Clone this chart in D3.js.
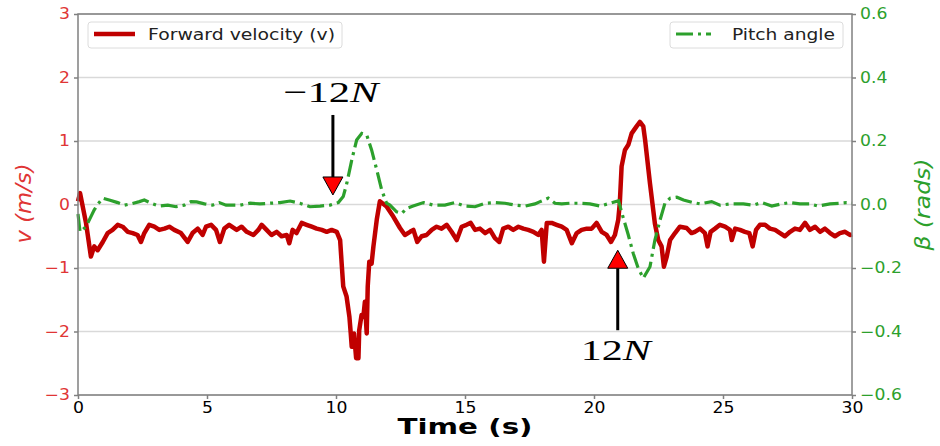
<!DOCTYPE html>
<html>
<head>
<meta charset="utf-8">
<script src="https://cdn.jsdelivr.net/npm/d3@7"></script>
<style>
  body { margin: 0; background: #fff; }
  text { font-family: 'DejaVu Sans', sans-serif; }
</style>
</head>
<body>
<svg id="chart"></svg>
<script>
// forward velocity v (m/s), [time s, value]
const velocity = [
  [0.00, 0.05], [0.08, 0.18], [0.31, -0.29], [0.50, -0.82], [0.63, -0.66], [0.76, -0.72],
  [0.96, -0.59], [1.15, -0.45], [1.34, -0.40], [1.54, -0.32], [1.73, -0.35], [1.93, -0.43],
  [2.12, -0.45], [2.31, -0.48], [2.44, -0.59], [2.57, -0.45], [2.76, -0.32], [2.96, -0.35],
  [3.15, -0.40], [3.35, -0.38], [3.54, -0.35], [3.73, -0.40], [3.99, -0.45], [4.25, -0.59],
  [4.44, -0.45], [4.64, -0.38], [4.83, -0.48], [4.96, -0.35], [5.16, -0.32], [5.35, -0.40],
  [5.50, -0.59], [5.67, -0.38], [5.86, -0.32], [6.15, -0.40], [6.34, -0.35], [6.54, -0.43],
  [6.80, -0.48], [6.99, -0.40], [7.12, -0.32], [7.31, -0.40], [7.50, -0.48], [7.70, -0.43],
  [7.89, -0.50], [8.09, -0.48], [8.19, -0.61], [8.32, -0.40], [8.47, -0.45], [8.67, -0.29],
  [8.86, -0.32], [9.06, -0.35], [9.25, -0.38], [9.45, -0.40], [9.64, -0.43], [9.83, -0.40],
  [10.03, -0.43], [10.16, -0.56], [10.22, -0.93], [10.28, -1.29], [10.41, -1.45], [10.52, -1.77],
  [10.57, -2.02], [10.61, -2.24], [10.70, -2.03], [10.78, -2.42], [10.87, -2.42], [10.90, -1.98],
  [10.99, -1.74], [11.06, -1.77], [11.12, -1.53], [11.19, -2.03], [11.23, -1.29], [11.29, -0.90],
  [11.38, -0.93], [11.45, -0.66], [11.58, -0.24], [11.70, 0.05], [11.80, 0.02], [11.96, -0.03],
  [12.22, -0.19], [12.48, -0.37], [12.67, -0.48], [12.87, -0.43], [13.00, -0.40], [13.15, -0.59],
  [13.32, -0.50], [13.51, -0.48], [13.71, -0.40], [13.90, -0.35], [14.09, -0.38], [14.29, -0.32],
  [14.48, -0.43], [14.68, -0.56], [14.87, -0.35], [15.06, -0.32], [15.22, -0.29], [15.39, -0.40],
  [15.58, -0.38], [15.78, -0.45], [15.97, -0.40], [16.16, -0.53], [16.33, -0.59], [16.48, -0.38],
  [16.68, -0.35], [16.87, -0.40], [17.07, -0.35], [17.26, -0.38], [17.45, -0.40], [17.65, -0.43],
  [17.84, -0.48], [17.97, -0.40], [18.06, -0.90], [18.17, -0.29], [18.36, -0.29], [18.55, -0.32],
  [18.75, -0.35], [18.94, -0.40], [19.14, -0.61], [19.33, -0.45], [19.52, -0.40], [19.72, -0.38],
  [19.91, -0.38], [20.10, -0.29], [20.30, -0.43], [20.49, -0.48], [20.66, -0.59], [20.81, -0.48],
  [20.94, -0.24], [21.00, 0.02], [21.07, 0.60], [21.20, 0.86], [21.33, 0.94], [21.46, 1.12],
  [21.65, 1.23], [21.78, 1.30], [21.91, 1.23], [21.98, 1.02], [22.17, 0.33], [22.36, -0.30],
  [22.49, -0.56], [22.62, -0.66], [22.71, -0.98], [22.82, -0.82], [22.95, -0.56], [23.14, -0.45],
  [23.33, -0.35], [23.59, -0.37], [23.78, -0.45], [23.91, -0.43], [24.11, -0.38], [24.30, -0.45],
  [24.40, -0.66], [24.52, -0.43], [24.69, -0.38], [24.88, -0.32], [25.08, -0.35], [25.27, -0.40],
  [25.34, -0.56], [25.47, -0.38], [25.66, -0.40], [25.85, -0.43], [26.02, -0.45], [26.15, -0.66],
  [26.28, -0.40], [26.43, -0.32], [26.63, -0.32], [26.82, -0.38], [27.02, -0.40], [27.21, -0.45],
  [27.40, -0.50], [27.60, -0.43], [27.79, -0.38], [27.98, -0.40], [28.18, -0.29], [28.37, -0.40],
  [28.57, -0.35], [28.76, -0.43], [28.95, -0.38], [29.15, -0.45], [29.34, -0.50], [29.53, -0.45],
  [29.73, -0.43], [29.92, -0.48], [30.00, -0.47]
]

// pitch angle beta (rads), [time s, value]
const pitch = [
  [0.00, -0.03], [0.08, -0.086], [0.31, -0.07], [0.63, -0.017], [0.76, 0.0], [0.96, 0.02],
  [1.21, 0.014], [1.54, 0.006], [1.80, -0.002], [2.05, 0.002], [2.38, 0.009], [2.57, 0.014],
  [2.90, 0.002], [3.15, -0.005], [3.48, -0.002], [3.80, -0.007], [4.12, -0.002], [4.38, 0.009],
  [4.60, 0.008], [4.90, 0.002], [5.22, -0.002], [5.48, 0.006], [5.74, -0.002], [6.28, -0.002],
  [6.67, 0.004], [7.05, 0.002], [7.44, 0.004], [7.83, 0.006], [8.22, 0.011], [8.60, 0.004],
  [8.99, -0.007], [9.38, -0.005], [9.77, -0.002], [10.09, 0.006], [10.28, 0.025], [10.42, 0.067],
  [10.61, 0.14], [10.80, 0.203], [11.00, 0.224], [11.19, 0.219], [11.38, 0.172], [11.58, 0.109],
  [11.77, 0.046], [11.96, 0.004], [12.09, -0.002], [12.35, -0.023], [12.55, -0.028], [12.74, -0.012],
  [12.99, -0.005], [13.39, 0.006], [13.77, -0.002], [14.22, -0.002], [14.61, 0.006], [15.00, -0.005],
  [15.39, -0.007], [15.78, 0.004], [16.16, 0.006], [16.55, 0.004], [16.94, -0.002], [17.33, -0.005],
  [17.71, 0.002], [17.91, 0.009], [18.23, 0.02], [18.49, 0.004], [18.75, 0.002], [19.07, 0.004],
  [19.46, 0.004], [19.84, 0.002], [20.23, -0.005], [20.62, 0.004], [20.95, 0.012], [21.12, -0.038],
  [21.33, -0.096], [21.52, -0.154], [21.71, -0.2], [21.91, -0.232], [22.17, -0.196], [22.36, -0.112],
  [22.56, -0.049], [22.75, 0.004], [22.95, 0.02], [23.21, 0.023], [23.47, 0.014], [23.85, 0.006],
  [24.11, 0.002], [24.56, 0.009], [24.88, -0.002], [25.33, 0.002], [25.79, 0.002], [26.17, -0.002],
  [26.50, 0.006], [26.89, -0.005], [27.27, 0.002], [27.60, 0.006], [27.98, 0.002], [28.37, 0.002],
  [28.69, -0.005], [29.15, 0.002], [29.53, 0.004], [29.79, 0.006], [30.00, 0.004]
]

const xTicks = [0, 5, 10, 15, 20, 25, 30]
const vTicks = [-3, -2, -1, 0, 1, 2, 3]
const betaTicks = [-0.6, -0.4, -0.2, 0, 0.2, 0.4, 0.6]

// force markers: time of the push, arrow tip / tail and label on the v axis
const forces = [
  { sign: '−', t: 9.88, tip: 0.15, tail: 1.41, labelV: 1.61, up: false },
  { sign: '', t: 20.92, tip: -0.72, tail: -1.98, labelV: -2.45, up: true }
]

const width = 940
const height = 446
const margin = { top: 14, right: 88, bottom: 51, left: 78 }
const dims = { w: width - margin.left - margin.right, h: height - margin.top - margin.bottom }

const colors = { v: '#c00000', vText: '#e03535', beta: '#2ca02c', spine: '#808080', grid: '#d9d9d9' }

// the source image is a little wider than tall, so text is stretched sideways
const stretch = 1.15

const scales = {
  x: d3.scaleLinear().domain([0, 30]).range([0, dims.w]),
  v: d3.scaleLinear().domain([-3, 3]).range([dims.h, 0]),
  beta: d3.scaleLinear().domain([-0.6, 0.6]).range([dims.h, 0])
}

const svg = d3.select('#chart')
  .attr('width', width)
  .attr('height', height)

const chart = svg.append('g')
  .attr('transform', `translate(${margin.left}, ${margin.top})`)

// grid
chart.append('g')
  .selectAll('line')
  .data(vTicks)
  .join('line')
  .attr('x1', 0)
  .attr('x2', dims.w)
  .attr('y1', d => scales.v(d))
  .attr('y2', d => scales.v(d))
  .attr('stroke', colors.grid)
  .attr('stroke-width', 1.5)

const minus = d => d < 0 ? '−' + Math.abs(d) : String(d)

const styleAxis = (g, color, textColor) => {
  g.select('.domain').remove()
  g.selectAll('.tick line').attr('stroke', color).attr('stroke-width', 1.5)
  g.selectAll('.tick text')
    .attr('fill', textColor)
    .attr('transform', `scale(${stretch}, 1)`)
    .style('font-size', '15px')
}

chart.append('g')
  .call(d3.axisLeft(scales.v).tickValues(vTicks).tickSize(4).tickPadding(3).tickFormat(minus))
  .call(g => styleAxis(g, colors.spine, colors.vText))

chart.append('g')
  .attr('transform', `translate(${dims.w}, 0)`)
  .call(d3.axisRight(scales.beta).tickValues(betaTicks).tickSize(4).tickPadding(3)
    .tickFormat(d => d === 0 ? '0.0' : d3.format('.1f')(d)))
  .call(g => styleAxis(g, colors.spine, colors.beta))

chart.append('g')
  .attr('transform', `translate(0, ${dims.h})`)
  .call(d3.axisBottom(scales.x).tickValues(xTicks).tickSize(4).tickPadding(3))
  .call(g => styleAxis(g, colors.spine, '#000'))

// series
chart.append('path')
  .datum(velocity)
  .attr('d', d3.line().x(d => scales.x(d[0])).y(d => scales.v(d[1])))
  .attr('fill', 'none')
  .attr('stroke', colors.v)
  .attr('stroke-width', 4.5)
  .attr('stroke-linejoin', 'round')

chart.append('path')
  .datum(pitch)
  .attr('d', d3.line().x(d => scales.x(d[0])).y(d => scales.beta(d[1])))
  .attr('fill', 'none')
  .attr('stroke', colors.beta)
  .attr('stroke-width', 3.2)
  .attr('stroke-dasharray', '17 5 3 5')

// arrows and force labels
forces.forEach(f => {
  const x = scales.x(f.t)
  const tipY = scales.v(f.tip)
  const head = 18
  const baseY = f.up ? tipY + head : tipY - head
  chart.append('line')
    .attr('x1', x).attr('x2', x)
    .attr('y1', scales.v(f.tail)).attr('y2', baseY)
    .attr('stroke', '#000')
    .attr('stroke-width', 3)
  chart.append('path')
    .attr('d', `M${x},${tipY}L${x - 10},${baseY}L${x + 10},${baseY}Z`)
    .attr('fill', '#ff0000')
    .attr('stroke', '#000')
    .attr('stroke-width', 1)
  const label = chart.append('text')
    .attr('x', x - 2)
    .attr('y', scales.v(f.labelV))
    .attr('text-anchor', 'middle')
    .attr('textLength', f.sign ? 95 : 70)
    .attr('lengthAdjust', 'spacingAndGlyphs')
    .style('font-family', "'Liberation Serif', serif")
    .style('font-size', '30px')
  label.append('tspan').text(f.sign + '12')
  label.append('tspan').style('font-style', 'italic').text('N')
})

// frame
chart.append('rect')
  .attr('width', dims.w)
  .attr('height', dims.h)
  .attr('fill', 'none')
  .attr('stroke', colors.spine)
  .attr('stroke-width', 1.5)

// legends
const legend = (x, w, label, color, dash, textX, textW, lineW) => {
  const g = chart.append('g').attr('transform', `translate(${x}, 8)`)
  g.append('rect')
    .attr('width', w)
    .attr('height', 26)
    .attr('rx', 3)
    .attr('fill', '#fff')
    .attr('stroke', '#dcdcdc')
  g.append('line')
    .attr('x1', 6).attr('x2', 6 + lineW)
    .attr('y1', 12).attr('y2', 12)
    .attr('stroke', color)
    .attr('stroke-width', dash ? 3.2 : 4.5)
    .attr('stroke-dasharray', dash)
  g.append('text')
    .attr('x', textX)
    .attr('y', 18)
    .attr('textLength', textW)
    .attr('lengthAdjust', 'spacingAndGlyphs')
    .style('font-size', '15px')
    .attr('fill', '#222')
    .text(label)
}
legend(10, 254, 'Forward velocity (v)', colors.v, null, 60, 187, 41)
legend(dims.w - 182, 173, 'Pitch angle', colors.beta, '17 5 3 5', 62, 103, 35)

// axis titles
svg.append('text')
  .attr('x', margin.left + dims.w / 2)
  .attr('y', 434)
  .attr('text-anchor', 'middle')
  .attr('textLength', 135)
  .attr('lengthAdjust', 'spacingAndGlyphs')
  .style('font-size', '21px')
  .style('font-weight', 'bold')
  .text('Time (s)')

svg.append('text')
  .attr('transform', `translate(31, ${margin.top + dims.h / 2 - 1}) rotate(-90)`)
  .attr('text-anchor', 'middle')
  .attr('textLength', 80)
  .attr('lengthAdjust', 'spacingAndGlyphs')
  .attr('fill', colors.vText)
  .style('font-size', '22px')
  .style('font-style', 'italic')
  .text('v (m/s)')

svg.append('text')
  .attr('transform', `translate(930, ${margin.top + dims.h / 2}) rotate(-90)`)
  .attr('text-anchor', 'middle')
  .attr('textLength', 92)
  .attr('lengthAdjust', 'spacingAndGlyphs')
  .attr('fill', colors.beta)
  .style('font-size', '22px')
  .style('font-style', 'italic')
  .text('β (rads)')
</script>
</body>
</html>
